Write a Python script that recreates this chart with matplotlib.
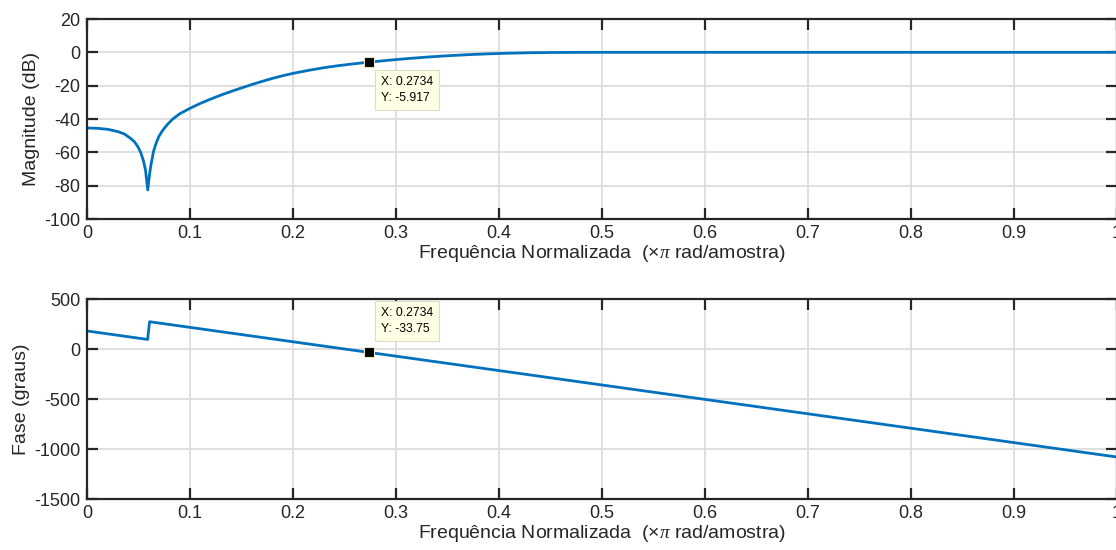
import matplotlib
matplotlib.use('Agg')
import matplotlib.pyplot as plt

# frequency axis in units of pi rad/sample
mag_freq = [0.0, 0.01, 0.02, 0.03, 0.036, 0.042, 0.046, 0.0495, 0.052, 0.0545, 0.0565,
            0.0587, 0.0605, 0.062, 0.0645, 0.067, 0.0695, 0.073, 0.0775, 0.083, 0.09,
            0.1, 0.11, 0.12, 0.13, 0.14, 0.15, 0.16, 0.17, 0.18, 0.19, 0.2, 0.215,
            0.23, 0.245, 0.26, 0.2734, 0.29, 0.31, 0.33, 0.35, 0.37, 0.39, 0.41, 0.43,
            0.45, 0.48, 0.5, 0.6, 0.7, 0.8, 0.9, 1.0]
mag_db = [-45.4, -45.6, -46.2, -47.6, -49.0, -51.6, -53.8, -57.0, -60.3, -65.0, -70.5,
          -82.6, -73.0, -67.0, -59.0, -54.3, -50.5, -47.0, -43.5, -40.0, -36.8,
          -33.5, -30.6, -28.0, -25.6, -23.4, -21.3, -19.3, -17.4, -15.6, -14.0, -12.6, -10.8,
          -9.2, -7.9, -6.8, -5.917, -4.9, -3.8, -2.85, -2.05, -1.4, -0.9, -0.5, -0.25,
          -0.1, -0.02, 0.0, 0.0, 0.0, 0.0, 0.0, 0.0]

phase_freq = [0.0, 0.0586, 0.0605, 0.2734, 1.0]
phase_deg = [180.0, 95.6, 272.8, -33.75, -1080.0]

tip_x = 0.2734
tip_mag = -5.917
tip_phase = -33.75

line_color = '#0072BD'
spine_color = '#262626'

plt.rcParams['font.family'] = ['Liberation Sans', 'DejaVu Sans']
plt.rcParams['axes.unicode_minus'] = False
plt.rcParams['mathtext.fontset'] = 'custom'
plt.rcParams['mathtext.rm'] = 'Liberation Sans'
plt.rcParams['mathtext.it'] = 'Liberation Serif:italic'

fig = plt.figure(figsize=(11.16, 5.5), dpi=100)
W, H = 1116.0, 550.0
ax1 = fig.add_axes([87.3 / W, 1 - 219 / H, (1116.8 - 87.3) / W, 200 / H])
ax2 = fig.add_axes([87.3 / W, 1 - 499 / H, (1116.8 - 87.3) / W, 200 / H])

xlabel = r'Frequência Normalizada  ($\times\pi$ rad/amostra)'


def style_axes(ax):
    ax.set_xlim(0, 1)
    ax.set_xticks([0, 0.1, 0.2, 0.3, 0.4, 0.5, 0.6, 0.7, 0.8, 0.9, 1])
    ax.set_xticklabels(['0', '0.1', '0.2', '0.3', '0.4', '0.5', '0.6', '0.7', '0.8', '0.9', '1'])
    ax.grid(True, color='#DADADA', linewidth=1.2)
    ax.set_axisbelow(True)
    for s in ax.spines.values():
        s.set_color(spine_color)
        s.set_linewidth(1.6)
    ax.tick_params(direction='in', length=8, width=1.6, color=spine_color,
                   top=True, right=True, labelsize=13, labelcolor='#262626', pad=5)
    ax.tick_params(axis='x', pad=4)
    ax.set_xlabel(xlabel, fontsize=14, color='#262626', labelpad=1)


def data_tip(ax, x, y, dy):
    ax.plot([x], [y], 's', color='black', markersize=7.5,
            markeredgecolor='#E8E6C8', markeredgewidth=0.8, zorder=5)
    va = 'top' if dy < 0 else 'bottom'
    ax.annotate('X: %s\nY: %s' % (f'{x:.4g}', f'{y:.4g}'), xy=(x, y),
                xytext=(12, dy), textcoords='offset pixels', ha='left', va=va,
                fontsize=8.7, color='black', linespacing=1.45,
                bbox=dict(boxstyle='square,pad=0.5', fc='#FFFFE6', ec='#DCDCC8', lw=0.8),
                zorder=6)


ax1.plot(mag_freq, mag_db, color=line_color, linewidth=2)
ax1.set_ylim(-100, 20)
ax1.set_yticks([-100, -80, -60, -40, -20, 0, 20])
ax1.set_ylabel('Magnitude (dB)', fontsize=14, color='#262626', labelpad=3)
style_axes(ax1)
data_tip(ax1, tip_x, tip_mag, -14)

ax2.plot(phase_freq, phase_deg, color=line_color, linewidth=2)
ax2.set_ylim(-1500, 500)
ax2.set_yticks([-1500, -1000, -500, 0, 500])
ax2.set_ylabel('Fase (graus)', fontsize=14, color='#262626', labelpad=3)
style_axes(ax2)
data_tip(ax2, tip_x, tip_phase, 17)

fig.savefig('out.png', dpi=100)
